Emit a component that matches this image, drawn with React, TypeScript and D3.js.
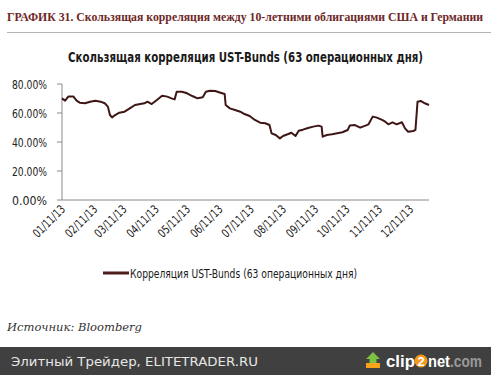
import React from 'react';
import * as d3 from 'd3';

// rolling 63-day correlation (percent)
const dates = [
  '2013-01-11', '2013-01-14', '2013-01-17', '2013-01-22', '2013-01-25', '2013-01-28',
  '2013-02-02', '2013-02-07', '2013-02-12', '2013-02-17', '2013-02-21', '2013-02-24',
  '2013-02-26', '2013-02-28', '2013-03-03', '2013-03-07', '2013-03-12', '2013-03-17',
  '2013-03-22', '2013-03-27', '2013-03-31', '2013-04-03', '2013-04-07', '2013-04-12',
  '2013-04-17', '2013-04-22', '2013-04-26', '2013-04-29', '2013-05-01', '2013-05-06',
  '2013-05-11', '2013-05-16', '2013-05-21', '2013-05-26', '2013-05-29', '2013-06-02',
  '2013-06-07', '2013-06-12', '2013-06-16', '2013-06-17', '2013-06-21', '2013-06-26',
  '2013-07-01', '2013-07-05', '2013-07-10', '2013-07-15', '2013-07-20', '2013-07-25',
  '2013-07-29', '2013-07-31', '2013-08-04', '2013-08-08', '2013-08-11', '2013-08-16',
  '2013-08-19', '2013-08-23', '2013-08-26', '2013-08-30', '2013-09-04', '2013-09-09',
  '2013-09-14', '2013-09-17', '2013-09-18', '2013-09-22', '2013-09-27', '2013-10-02',
  '2013-10-07', '2013-10-12', '2013-10-14', '2013-10-19', '2013-10-24', '2013-10-29',
  '2013-11-01', '2013-11-05', '2013-11-09', '2013-11-14', '2013-11-17', '2013-11-20',
  '2013-11-24', '2013-11-28', '2013-12-03', '2013-12-06', '2013-12-09', '2013-12-14',
  '2013-12-16', '2013-12-18', '2013-12-21', '2013-12-25', '2013-12-29'
];

const correlation = [
  70.1, 68.5, 71.3, 71.3, 68.5, 67.1,
  66.7, 67.8, 68.5, 67.8, 66.7, 64.4,
  58.6, 57.0, 58.6, 60.2, 60.9, 63.2,
  65.5, 66.2, 66.7, 67.8, 66.2, 69.0,
  71.9, 71.3, 70.1, 69.4, 74.7, 74.7,
  73.6, 71.7, 70.1, 70.8, 74.7, 75.4,
  75.2, 74.0, 73.1, 65.5, 63.2, 62.1,
  60.9, 59.3, 57.9, 55.2, 53.3, 52.9,
  51.7, 46.0, 44.8, 42.5, 44.1, 45.5,
  46.4, 44.1, 47.8, 48.5, 49.7, 50.6,
  51.3, 50.6, 43.7, 44.8, 45.3, 46.0,
  46.7, 48.3, 51.3, 51.7, 49.9, 51.3,
  52.2, 57.5, 56.8, 55.2, 54.0, 52.2,
  53.6, 52.2, 53.6, 49.4, 47.1, 47.6,
  48.3, 67.8, 68.3, 66.7, 65.5
];

const xTickLabels = [
  '2013-01-11', '2013-02-11', '2013-03-11', '2013-04-11', '2013-05-11', '2013-06-11',
  '2013-07-11', '2013-08-11', '2013-09-11', '2013-10-11', '2013-11-11', '2013-12-11'
];
const yTicks = [0, 0.2, 0.4, 0.6, 0.8];

const pageTitle = 'ГРАФИК 31. Скользящая корреляция между 10-летними облигациями США и Германии';
const chartTitle = 'Скользящая корреляция UST-Bunds (63 операционных дня)';
const seriesName = 'Корреляция UST-Bunds (63 операционных дня)';

const narrow = '"Liberation Sans Narrow", "DejaVu Sans Condensed", sans-serif';

const App = () => {
  const parse = d3.timeParse('%Y-%m-%d');
  const points = dates.map((d, i) => ({ date: parse(d) as Date, value: correlation[i] / 100 }));

  const x = d3.scaleTime()
    .domain(d3.extent(points, d => d.date) as [Date, Date])
    .range([62, 429]);
  const y = d3.scaleLinear().domain([0, 0.8]).range([200, 84]);

  const path = d3.line<{ date: Date; value: number }>()
    .x(d => x(d.date))
    .y(d => y(d.value))(points) || '';

  const fmtY = d3.format('.2%');
  const fmtX = d3.timeFormat('%m/%d/%y');

  return (
    <svg width={491} height={375} style={{ position: 'absolute', left: 0, top: 0, background: '#fff' }}>
      <text x={7} y={21} fontFamily='"Liberation Serif", serif' fontWeight="bold" fontSize={12}
        fill="#6e2727" textLength={476} lengthAdjust="spacingAndGlyphs">{pageTitle}</text>
      <line x1={7} x2={491} y1={32.5} y2={32.5} stroke="#b4b4b4" strokeWidth={1} />

      <text x={245.5} y={62} textAnchor="middle" fontFamily={narrow} fontWeight="bold" fontSize={13.5}
        fill="#1a1a1a" textLength={355} lengthAdjust="spacingAndGlyphs">{chartTitle}</text>

      {/* y axis */}
      <line x1={62} x2={62} y1={y(0.8)} y2={y(0)} stroke="#8a8a8a" />
      {yTicks.map(t => (
        <g key={t}>
          <line x1={57} x2={62} y1={y(t)} y2={y(t)} stroke="#8a8a8a" />
          <text x={47} y={y(t) + 4.5} textAnchor="end" fontFamily={narrow} fontSize={12} fill="#222"
            textLength={35} lengthAdjust="spacingAndGlyphs">
            {fmtY(t)}
          </text>
        </g>
      ))}

      {/* x axis */}
      <line x1={62} x2={429} y1={200} y2={200} stroke="#8a8a8a" />
      {xTickLabels.map(s => {
        const d = parse(s) as Date;
        const tx = x(d) + 4;
        const ty = 210;
        return (
          <text key={s} x={tx} y={ty} transform={`rotate(-45 ${tx} ${ty})`} textAnchor="end"
            fontFamily={narrow} fontSize={12} fill="#222"
            textLength={40} lengthAdjust="spacingAndGlyphs">{fmtX(d)}</text>
        );
      })}

      <path d={path} fill="none" stroke="#3f1616" strokeWidth={2} strokeLinejoin="round" />

      {/* legend */}
      <line x1={103} x2={129} y1={273} y2={273} stroke="#4f1c1c" strokeWidth={3} />
      <text x={130} y={277.5} fontFamily={narrow} fontSize={12} fill="#1a1a1a"
        textLength={227} lengthAdjust="spacingAndGlyphs">{seriesName}</text>

      <text x={7} y={331} fontFamily='"DejaVu Serif", serif' fontStyle="italic" fontSize={11.5}
        fill="#333" textLength={135} lengthAdjust="spacingAndGlyphs">Источник: Bloomberg</text>

      {/* footer bar */}
      <rect x={0} y={347} width={491} height={28} fill="#404040" />
      <text x={11} y={365.5} fontFamily='"DejaVu Sans", sans-serif' fontSize={13} fill="#e6e6e6"
        textLength={247} lengthAdjust="spacingAndGlyphs">Элитный Трейдер, ELITETRADER.RU</text>
      <g>
        <polygon points="373,352 380,359 376.5,359 376.5,363 369.5,363 369.5,359 366,359" fill="#7cc242" />
        <rect x={366} y={363} width={14} height={5} fill="#f7a21b" />
        <text x={386} y={367} fontFamily='"Liberation Sans", Arial, sans-serif' fontWeight="bold" fontSize={16}
          fill="#ffffff" textLength={29} lengthAdjust="spacingAndGlyphs">clip</text>
        <circle cx={421} cy={361} r={6.5} fill="#f39a1e" />
        <text x={421} y={366} textAnchor="middle" fontFamily='"Liberation Sans", Arial, sans-serif'
          fontWeight="bold" fontSize={13} fill="#fff">2</text>
        <text x={428} y={367} fontFamily='"Liberation Sans", Arial, sans-serif' fontWeight="bold" fontSize={16}
          fill="#ffffff" textLength={22} lengthAdjust="spacingAndGlyphs">net</text>
        <text x={450} y={367} fontFamily='"Liberation Sans", Arial, sans-serif' fontWeight="bold" fontSize={16}
          fill="#9a9a9a" textLength={32} lengthAdjust="spacingAndGlyphs">.com</text>
      </g>
    </svg>
  );
};

export default App;
